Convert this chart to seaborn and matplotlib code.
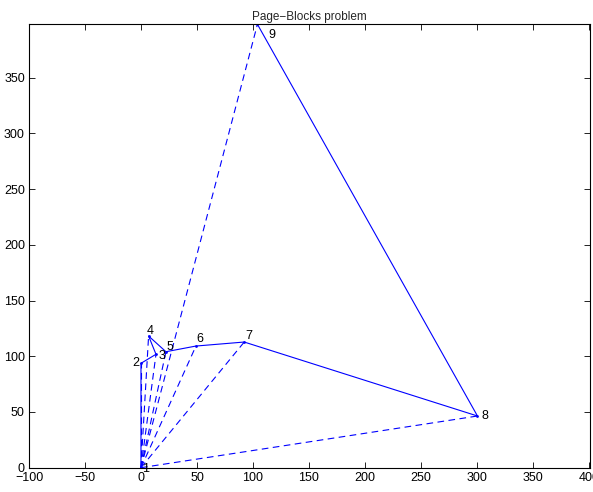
import matplotlib
matplotlib.use("Agg")
import matplotlib.pyplot as plt
import seaborn as sns
import pandas as pd

labels = ["1", "2", "3", "4", "5", "6", "7", "8", "9"]
xs = [0, 0, 13.4, 6.8, 22.3, 49.1, 92.2, 300.5, 104]
ys = [0, 93.7, 101.8, 118.2, 104.1, 109.2, 112.8, 46.4, 398]
label_dx = [5, -5, 6, 2, 4, 4, 5, 7, 14]
label_dy = [-1, 0, -2, 5, 5, 7, 6, 0, -11]

sns.set_style("white")
plt.rcParams['font.family'] = ['Liberation Sans', 'DejaVu Sans']

fig = plt.figure(figsize=(5.93, 4.92), dpi=100)
ax = fig.add_axes([29/593, 1 - 467.7/492, (590 - 29)/593, (467.7 - 24.3)/492])

blue = (0, 0, 1)

# dashed rays from origin
seg_rows = []
for i in range(1, len(xs)):
    seg_rows.append({"seg": i, "x": 0.0, "y": 0.0, "o": 0})
    seg_rows.append({"seg": i, "x": xs[i], "y": ys[i], "o": 1})
segs = pd.DataFrame(seg_rows)
sns.lineplot(data=segs, x="x", y="y", units="seg", estimator=None, sort=False,
             color=blue, linestyle=(0, (6, 4)), linewidth=0.8, ax=ax)

poly = pd.DataFrame({"x": xs, "y": ys})
sns.lineplot(data=poly, x="x", y="y", sort=False, estimator=None, color=blue,
             linewidth=0.8, marker="o", markersize=2, markeredgewidth=0, ax=ax)

for lab, x, y, dx, dy in zip(labels, xs, ys, label_dx, label_dy):
    ax.annotate(lab, (x, y), xytext=(dx, dy), textcoords="offset pixels",
                ha="center", va="center", fontsize=9, color="black")

ax.set_xlim(-100, 401)
ax.set_ylim(0, 398)
ax.set_xticks(range(-100, 401, 50))
ax.set_yticks(range(0, 351, 50))
ax.set_xticklabels([str(v).replace("-", "\u2212") for v in range(-100, 401, 50)])
ax.set_xlabel("")
ax.set_ylabel("")
ax.set_title("Page\u2212Blocks problem", fontsize=8.5, pad=3)
ax.tick_params(direction="in", length=4, width=0.6, labelsize=9, top=True, right=True,
               bottom=True, left=True, pad=3, colors="black")
for s in ax.spines.values():
    s.set_visible(True)
    s.set_color("black")
    s.set_linewidth(0.8)

fig.savefig("out.png", dpi=100)
